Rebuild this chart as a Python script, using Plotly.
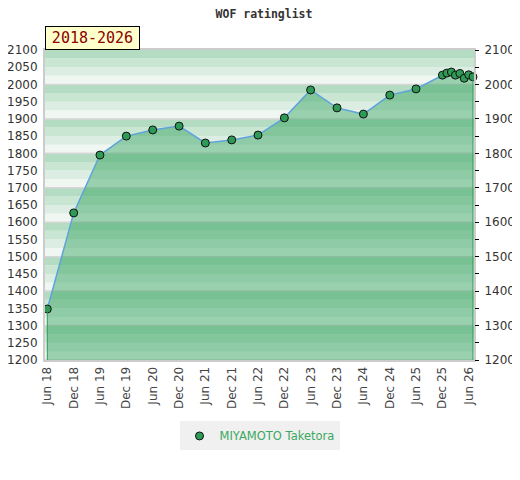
import plotly.graph_objects as go

# ─── data ────────────────────────────────────────────────
player = "MIYAMOTO Taketora"
period = "2018-2026"

list_dates = [
    "2018-06-01", "2018-12-01", "2019-06-01", "2019-12-01", "2020-06-01",
    "2020-12-01", "2021-06-01", "2021-12-01", "2022-06-01", "2022-12-01",
    "2023-06-01", "2023-12-01", "2024-06-01", "2024-12-01", "2025-06-01",
    "2025-12-01", "2026-01-01", "2026-02-01", "2026-03-01", "2026-04-01",
    "2026-05-01", "2026-06-01", "2026-07-01",
]
ratings = [
    1348, 1627, 1795, 1850, 1868,
    1879, 1830, 1839, 1853, 1903,
    1984, 1932, 1914, 1969, 1987,
    2027, 2033, 2036, 2027, 2032,
    2018, 2028, 2022,
]

tick_dates = [
    "2018-06-01", "2018-12-01", "2019-06-01", "2019-12-01", "2020-06-01",
    "2020-12-01", "2021-06-01", "2021-12-01", "2022-06-01", "2022-12-01",
    "2023-06-01", "2023-12-01", "2024-06-01", "2024-12-01", "2025-06-01",
    "2025-12-01", "2026-06-01",
]
tick_labels = [
    "Jun 18", "Dec 18", "Jun 19", "Dec 19", "Jun 20",
    "Dec 20", "Jun 21", "Dec 21", "Jun 22", "Dec 22",
    "Jun 23", "Dec 23", "Jun 24", "Dec 24", "Jun 25",
    "Dec 25", "Jun 26",
]

y_min, y_max = 1200, 2100
left_ticks = list(range(y_min, y_max + 1, 50))
right_ticks = list(range(y_min, y_max + 1, 100))

GREEN = "#2e9a55"

# ─── figure ──────────────────────────────────────────────
fig = go.Figure()

fig.add_trace(go.Scatter(
    x=list_dates, y=ratings, name=player,
    mode="lines+markers", fill="tozeroy",
    fillcolor="rgba(46,160,90,0.45)",
    line=dict(color="#5fa3dc", width=1.5),
    marker=dict(size=8, color=GREEN, line=dict(color="#111", width=1)),
    cliponaxis=False, showlegend=False,
    hovertemplate="%{x|%b %Y}<br>%{y}<extra></extra>",
))

# vertical edges of the area
fig.add_trace(go.Scatter(
    x=[list_dates[0], list_dates[0], None, list_dates[-1], list_dates[-1]],
    y=[y_min, ratings[0], None, y_min, ratings[-1]],
    mode="lines", line=dict(color=GREEN, width=1),
    yaxis="y2", showlegend=False, hoverinfo="skip",
))

# legend entry: marker only
fig.add_trace(go.Scatter(
    x=[None], y=[None], name=player, mode="markers",
    marker=dict(size=8, color=GREEN, line=dict(color="#111", width=1)),
))

# striped background, four shades per 100 band
shades = ["#f0f7f2", "#dceee3", "#c8e6d2", "#b3dcc2"]
shapes = []
for base in range(y_min, y_max, 100):
    for i, col in enumerate(shades):
        shapes.append(dict(
            type="rect", xref="paper", yref="y", layer="below",
            x0=0, x1=1, y0=base + 25 * i, y1=base + 25 * (i + 1),
            fillcolor=col, line=dict(width=0),
        ))
    shapes.append(dict(
        type="line", xref="paper", yref="y", layer="below",
        x0=0, x1=1, y0=base, y1=base,
        line=dict(color="#d6d6d6", width=1.5),
    ))

# the page keeps the browser's 8px body margin, so the figure is 8px smaller
fig.update_layout(
    width=512, height=472,
    paper_bgcolor="white", plot_bgcolor="white",
    margin=dict(l=37, r=46, t=42, b=120, autoexpand=False),
    font=dict(family="DejaVu Sans", size=12, color="#333"),
    title=dict(text="WOF ratinglist", x=0.5, xanchor="center",
               y=1, yanchor="top", pad=dict(t=2),
               font=dict(family="DejaVu Sans Mono", size=11.5, color="#333", weight="bold")),
    shapes=shapes,
    xaxis=dict(
        type="date", range=["2018-05-16", "2026-07-08"],
        tickvals=tick_dates, ticktext=tick_labels, tickangle=-90,
        showgrid=False, zeroline=False, automargin=False,
        showline=True, linecolor="#cccccc", linewidth=2, mirror=True,
        ticks="", tickfont=dict(size=12, color="#444"),
    ),
    yaxis=dict(
        range=[y_min, y_max], tickvals=left_ticks,
        showgrid=False, zeroline=False, automargin=False,
        showline=True, linecolor="#cccccc", linewidth=2, mirror=True,
        ticks="", ticklabelstandoff=3, tickfont=dict(size=12, color="#333"),
    ),
    yaxis2=dict(
        range=[y_min, y_max], overlaying="y", side="right",
        tickvals=right_ticks, showgrid=False, zeroline=False, automargin=False,
        ticks="outside", ticklen=4, tickcolor="#000",
        minor=dict(tickvals=left_ticks, ticks="outside", ticklen=4, tickcolor="#000"),
        ticklabelstandoff=3, tickfont=dict(size=12, color="#333"),
    ),
    legend=dict(
        orientation="h", x=0.5, xanchor="center", y=-0.245, yanchor="middle",
        bgcolor="#f0f0f0", font=dict(size=11.5, color="#3aa862"),
    ),
    annotations=[dict(
        text=period, xref="paper", yref="paper", x=0, y=1,
        xanchor="left", yanchor="bottom", showarrow=False,
        width=89, height=18,
        font=dict(family="DejaVu Sans Mono", size=15, color="#8b0000"),
        bgcolor="#ffffcc", bordercolor="#000", borderwidth=1, borderpad=2,
    )],
)

fig.write_html("out.html")
